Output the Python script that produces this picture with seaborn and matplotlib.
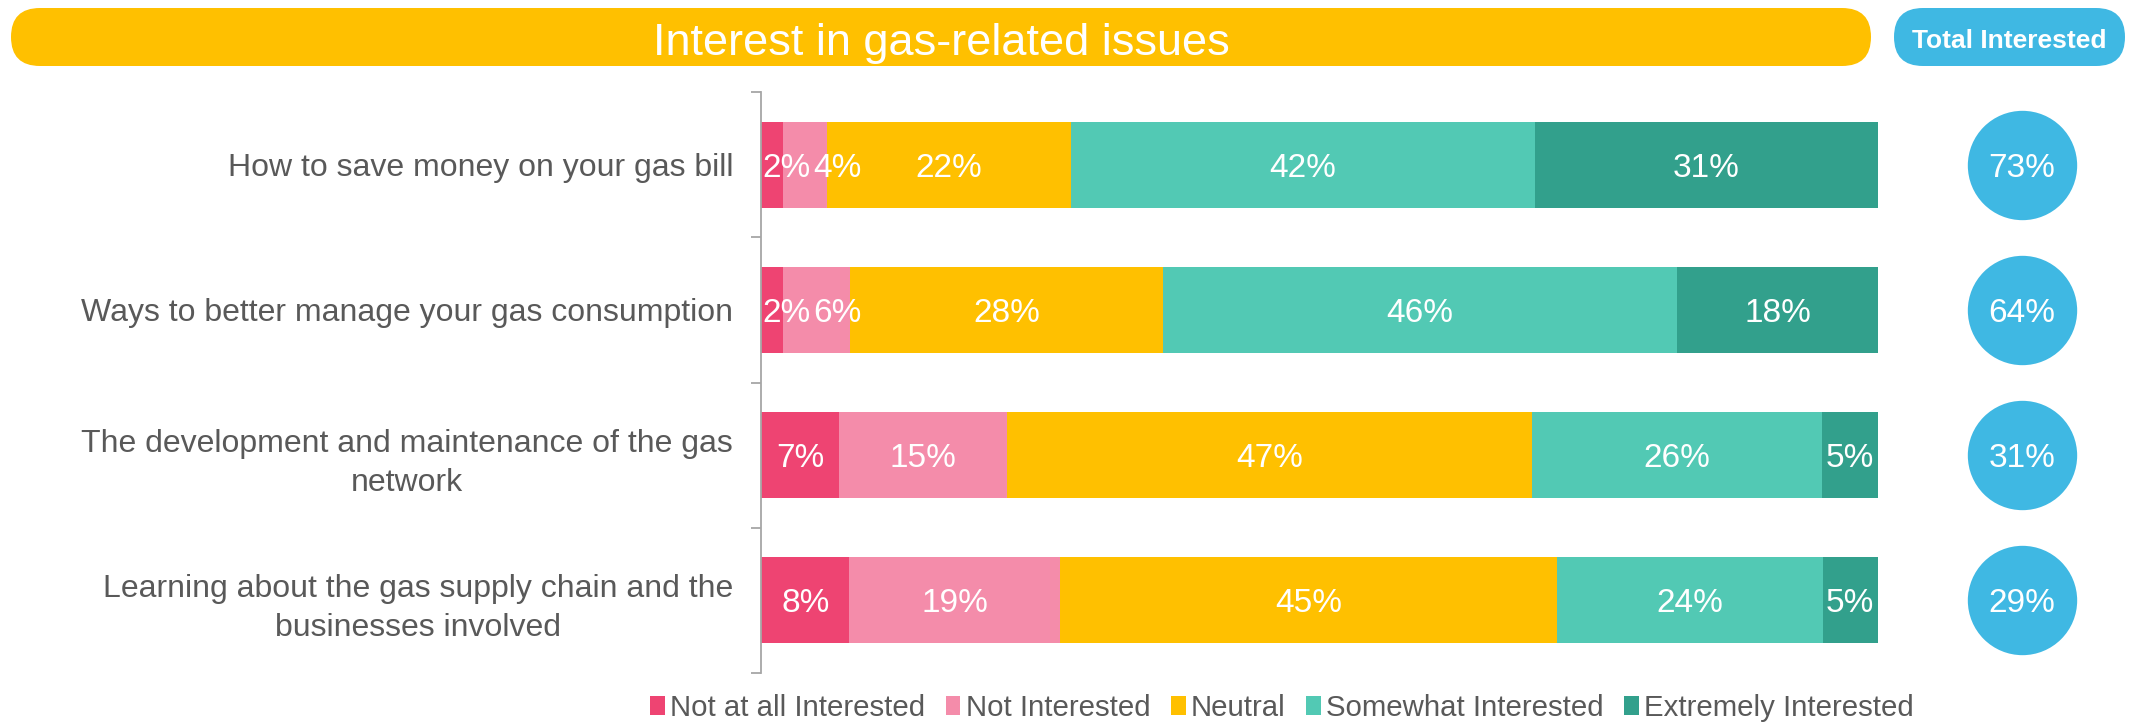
import numpy as np
import pandas as pd
import matplotlib
matplotlib.use("Agg")
import matplotlib.pyplot as plt
from matplotlib.patches import FancyBboxPatch, Patch
import seaborn as sns

# ---- data -------------------------------------------------------------
categories = [
    "How to save money on your gas bill",
    "Ways to better manage your gas consumption",
    "The development and maintenance of the gas\nnetwork",
    "Learning about the gas supply chain and the\nbusinesses involved",
]
levels = ["Not at all Interested", "Not Interested", "Neutral",
          "Somewhat Interested", "Extremely Interested"]
not_at_all = [2, 2, 7, 8]
not_interested = [4, 6, 15, 19]
neutral = [22, 28, 47, 45]
somewhat = [42, 46, 26, 24]
extremely = [31, 18, 5, 5]
total_interested = [73, 64, 31, 29]

level_colors = ["#EE4472", "#F48CAA", "#FFC000", "#52C9B4", "#32A08C"]
blue = "#3FB8E3"
grey_text = "#595959"

# ---- style ------------------------------------------------------------
sns.set_style("white")
plt.rcParams["font.family"] = ["Liberation Sans", "DejaVu Sans"]

W, H = 2129, 724
fig = plt.figure(figsize=(W / 100, H / 100), dpi=100)

# header banners drawn in pixel space
bg = fig.add_axes([0, 0, 1, 1], zorder=0)
bg.set_xlim(0, W)
bg.set_ylim(H, 0)
bg.axis("off")
bg.add_patch(FancyBboxPatch((11, 8), 1860, 58,
                            boxstyle="round,pad=0,rounding_size=29",
                            fc="#FFC000", ec="none"))
bg.add_patch(FancyBboxPatch((1894, 8), 231, 58,
                            boxstyle="round,pad=0,rounding_size=29",
                            fc=blue, ec="none"))
bg.text(941, 39, "Interest in gas-related issues", color="white",
        fontsize=32.5, ha="center", va="center_baseline")
bg.text(2009, 39, "Total Interested", color="white", fontsize=19,
        fontweight="bold", ha="center", va="center_baseline")

# ---- stacked 100% bars ------------------------------------------------
values = np.array([not_at_all, not_interested, neutral, somewhat, extremely],
                  dtype=float)
shares = values / values.sum(axis=0) * 100
cum = np.cumsum(shares, axis=0)

left, right = 761 / W, 1878 / W
top, bottom = 1 - 92 / H, 1 - 673 / H
ax = fig.add_axes([left, bottom, right - left, top - bottom], zorder=2)

# draw cumulative totals from the outermost level inwards so each level
# overlays the next one
for k in range(len(levels) - 1, -1, -1):
    df = pd.DataFrame({"category": categories, "cum": cum[k]})
    sns.barplot(data=df, x="cum", y="category", orient="h",
                color=level_colors[k], saturation=1, width=0.592,
                linewidth=0, ax=ax)

ax.set_xlim(0, 100)
ax.set_ylim(3.5, -0.5)

labels = [[None] * len(categories) for _ in levels]
for k in range(len(levels)):
    for i in range(len(categories)):
        labels[k][i] = ax.text(cum[k, i] - shares[k, i] / 2, i,
                               f"{int(values[k, i])}%", color="white",
                               fontsize=24, ha="center",
                               va="center_baseline")

# nudge crowded segment labels to the right so they stay readable
fig.canvas.draw()
renderer = fig.canvas.get_renderer()
px_per_unit = ax.bbox.width / 100.0
gap = 3 / px_per_unit
for i in range(len(categories)):
    min_left = 1 / px_per_unit
    for k in range(len(levels)):
        t = labels[k][i]
        half = t.get_window_extent(renderer).width / px_per_unit / 2
        x = t.get_position()[0]
        if x - half < min_left:
            x = min_left + half
            t.set_x(x)
        min_left = x + half + gap

ax.set_xlabel("")
ax.set_ylabel("")
ax.set_xticks([])
for s in ["top", "right", "bottom"]:
    ax.spines[s].set_visible(False)
ax.spines["left"].set_color("#A6A6A6")
ax.spines["left"].set_linewidth(1.3)
ax.set_yticks(np.arange(-0.5, len(categories), 1.0), minor=True)
ax.tick_params(axis="y", which="major", length=0, pad=20,
               labelsize=23, labelcolor=grey_text)
ax.tick_params(axis="y", which="minor", length=7, width=1.3,
               color="#A6A6A6", left=True)
for lbl in ax.get_yticklabels():
    lbl.set_multialignment("center")
    lbl.set_linespacing(1.4)

# ---- total interested bubbles ------------------------------------------
ax2 = fig.add_axes([1960 / W, bottom, 124 / W, top - bottom], zorder=2,
                   sharey=ax)
ax2.scatter([0.5] * len(categories), np.arange(len(categories)),
            s=6200, color=blue, linewidths=0)
for i, t in enumerate(total_interested):
    ax2.text(0.5, i, f"{t}%", color="white", fontsize=24,
             ha="center", va="center_baseline")
ax2.set_xlim(0, 1)
ax2.axis("off")

# ---- legend -----------------------------------------------------------
handles = [Patch(facecolor=c, edgecolor="none") for c in level_colors]
fig.legend(handles, levels, loc="center", ncol=5,
           bbox_to_anchor=(1282 / W, 1 - 708 / H), frameon=False,
           fontsize=21.2, labelcolor=grey_text, handlelength=0.5,
           handleheight=0.62, handletextpad=0.18, columnspacing=0.7,
           borderpad=0, borderaxespad=0)

fig.savefig("out.png", dpi=100)
